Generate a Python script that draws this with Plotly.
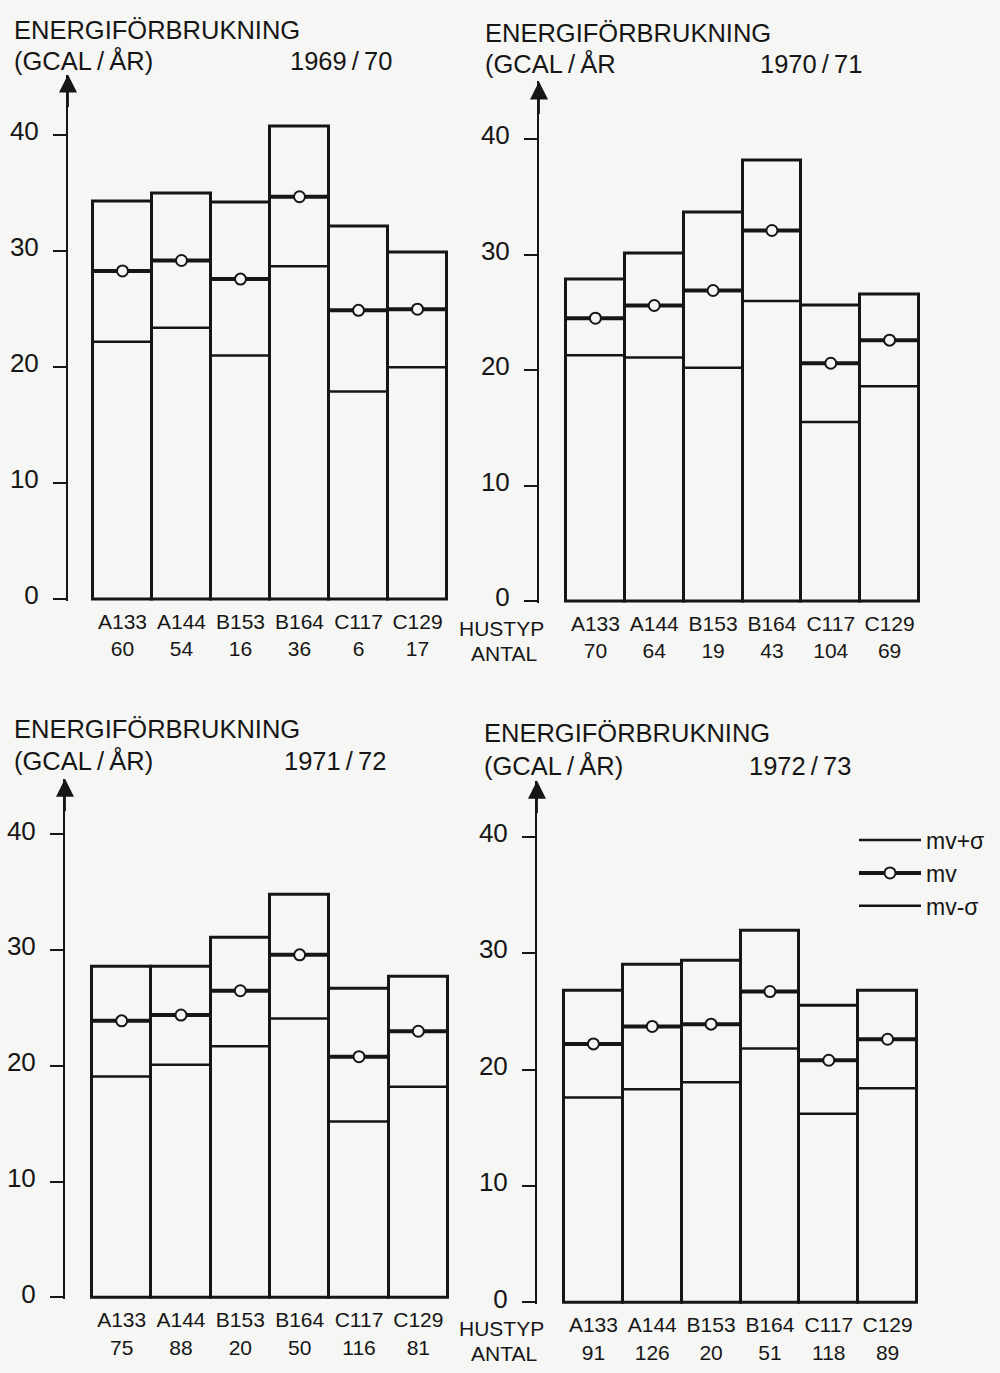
import plotly.graph_objects as go

# ---------------- data ----------------
categories = ["A133", "A144", "B153", "B164", "C117", "C129"]
years = ["1969\u2009/\u200970", "1970\u2009/\u200971", "1971\u2009/\u200972", "1972\u2009/\u200973"]

counts_6970 = [60, 54, 16, 36, 6, 17]
counts_7071 = [70, 64, 19, 43, 104, 69]
counts_7172 = [75, 88, 20, 50, 116, 81]
counts_7273 = [91, 126, 20, 51, 118, 89]

mv_plus_6970 = [34.3, 35.0, 34.2, 40.8, 32.1, 29.9]
mv_6970 = [28.3, 29.2, 27.6, 34.7, 24.9, 25.0]
mv_minus_6970 = [22.2, 23.4, 21.0, 28.7, 17.9, 20.0]

mv_plus_7071 = [27.9, 30.1, 33.7, 38.2, 25.6, 26.6]
mv_7071 = [24.5, 25.6, 26.9, 32.1, 20.6, 22.6]
mv_minus_7071 = [21.3, 21.1, 20.2, 26.0, 15.5, 18.6]

mv_plus_7172 = [28.6, 28.6, 31.1, 34.8, 26.7, 27.7]
mv_7172 = [23.9, 24.4, 26.5, 29.6, 20.8, 23.0]
mv_minus_7172 = [19.1, 20.1, 21.7, 24.1, 15.2, 18.2]

mv_plus_7273 = [26.8, 29.0, 29.3, 31.9, 25.5, 26.8]
mv_7273 = [22.2, 23.7, 23.9, 26.7, 20.8, 22.6]
mv_minus_7273 = [17.6, 18.3, 18.9, 21.8, 16.2, 18.4]

y_ticks = [0, 10, 20, 30, 40]
y_title_1 = "ENERGIFÖRBRUKNING"
y_title_2 = ["(GCAL\u2009/\u2009ÅR)", "(GCAL\u2009/\u2009ÅR", "(GCAL\u2009/\u2009ÅR)", "(GCAL\u2009/\u2009ÅR)"]
legend_names = ["mv+σ", "mv", "mv-σ"]

# ---------------- layout constants ----------------
W, H = 1000, 1373
BG = "#f6f6f4"
INK = "#161616"
FONT = "Liberation Sans, Arial, sans-serif"

panels = [
    dict(axis_x=68, left=93, right=447, zero=603, ppu=11.67, top=75,
         t1=(12, 30), t2=(12, 61), yr=(288, 61)),
    dict(axis_x=539, left=566, right=919, zero=605, ppu=11.62, top=82,
         t1=(483, 33), t2=(483, 64), yr=(758, 64)),
    dict(axis_x=65, left=92, right=448, zero=1306, ppu=11.65, top=784,
         t1=(12, 734), t2=(12, 766), yr=(282, 766)),
    dict(axis_x=537, left=564, right=917, zero=1311, ppu=11.72, top=786,
         t1=(482, 738), t2=(482, 771), yr=(747, 771)),
]

series = [
    (counts_6970, mv_plus_6970, mv_6970, mv_minus_6970),
    (counts_7071, mv_plus_7071, mv_7071, mv_minus_7071),
    (counts_7172, mv_plus_7172, mv_7172, mv_minus_7172),
    (counts_7273, mv_plus_7273, mv_7273, mv_minus_7273),
]


def seg(vals):
    xs, ys = [], []
    for i, v in enumerate(vals):
        xs += [i - 0.5, i + 0.5, None]
        ys += [v, v, None]
    return xs, ys


fig = go.Figure()
annotations = []
layout_axes = {}

for k, (spec, (cnt, plus, mv, minus)) in enumerate(zip(panels, series)):
    n = k + 1
    xa = "x" if n == 1 else f"x{n}"
    ya = "y" if n == 1 else f"y{n}"
    idx = list(range(len(categories)))

    ppx = (spec["right"] - spec["left"]) / 6
    xmin = -0.5 - (spec["left"] - spec["axis_x"]) / ppx
    xmax = 5.5 + 2 / ppx
    ymin = -2 / spec["ppu"]
    ymax = (spec["zero"] - spec["top"]) / spec["ppu"]

    # bars up to mv+sigma
    fig.add_trace(go.Bar(
        x=idx, y=plus, width=1, xaxis=xa, yaxis=ya,
        marker=dict(color=BG, line=dict(color=INK, width=3)),
        showlegend=False, hoverinfo="skip"))
    # mv - sigma
    sx, sy = seg(minus)
    fig.add_trace(go.Scatter(
        x=sx, y=sy, mode="lines", xaxis=xa, yaxis=ya,
        line=dict(color=INK, width=2.5), showlegend=False, hoverinfo="skip"))
    # mv
    sx, sy = seg(mv)
    fig.add_trace(go.Scatter(
        x=sx, y=sy, mode="lines", xaxis=xa, yaxis=ya,
        line=dict(color=INK, width=4), showlegend=False, hoverinfo="skip"))
    fig.add_trace(go.Scatter(
        x=idx, y=mv, mode="markers", xaxis=xa, yaxis=ya,
        marker=dict(symbol="circle", size=11, color=BG,
                    line=dict(color=INK, width=2)),
        showlegend=False, hoverinfo="skip"))

    dom_x = [spec["axis_x"] / W, (spec["right"] + 2) / W]
    dom_y = [1 - (spec["zero"] + 2) / H, 1 - spec["top"] / H]

    layout_axes["xaxis" if n == 1 else f"xaxis{n}"] = dict(
        domain=dom_x, range=[xmin, xmax], anchor=ya,
        showline=False, showgrid=False, zeroline=False, ticks="",
        tickvals=idx,
        ticktext=[f"{c}<br>{v}" for c, v in zip(categories, cnt)],
        tickfont=dict(family=FONT, size=21, color=INK),
        ticklabelstandoff=6, fixedrange=True)
    layout_axes["yaxis" if n == 1 else f"yaxis{n}"] = dict(
        domain=dom_y, range=[ymin, ymax], anchor=xa,
        showline=True, linecolor=INK, linewidth=2,
        showgrid=False, zeroline=False,
        ticks="outside", ticklen=13, tickwidth=2, tickcolor=INK,
        tickvals=y_ticks, ticktext=[str(t) for t in y_ticks],
        tickfont=dict(family=FONT, size=26, color=INK),
        ticklabelstandoff=9, ticklabelshift=-4, fixedrange=True)

    # arrow on the y axis
    annotations.append(dict(
        x=xmin, y=ymax, xref=xa, yref=ya, text="", showarrow=True,
        ax=0, ay=34, arrowhead=2, arrowsize=2.0, arrowwidth=1.8,
        arrowcolor=INK, standoff=0))

    # titles
    for txt, (px, py) in [(y_title_1, spec["t1"]), (y_title_2[k], spec["t2"]),
                          (years[k], spec["yr"])]:
        annotations.append(dict(
            x=px / W, y=1 - py / H, xref="paper", yref="paper",
            xanchor="left", yanchor="middle", text=txt, showarrow=False,
            font=dict(family=FONT, size=25.5, color=INK)))

# HUSTYP / ANTAL row labels
for (py1, py2) in [(633, 658), (1337, 1362)]:
    annotations.append(dict(x=501 / W, y=1 - py1 / H, xref="paper", yref="paper",
                            text="HUSTYP", showarrow=False, xanchor="center",
                            yanchor="middle",
                            font=dict(family=FONT, size=21, color=INK)))
    annotations.append(dict(x=504 / W, y=1 - py2 / H, xref="paper", yref="paper",
                            text="ANTAL", showarrow=False, xanchor="center",
                            yanchor="middle",
                            font=dict(family=FONT, size=21, color=INK)))

# legend keys
fig.add_trace(go.Scatter(x=[None], y=[None], mode="lines", name=legend_names[0],
                         line=dict(color=INK, width=2.5), xaxis="x4", yaxis="y4"))
fig.add_trace(go.Scatter(x=[None], y=[None], mode="lines+markers",
                         name=legend_names[1], xaxis="x4", yaxis="y4",
                         line=dict(color=INK, width=4),
                         marker=dict(symbol="circle", size=11, color=BG,
                                     line=dict(color=INK, width=2))))
fig.add_trace(go.Scatter(x=[None], y=[None], mode="lines", name=legend_names[2],
                         line=dict(color=INK, width=2.5), xaxis="x4", yaxis="y4"))

fig.update_layout(
    width=W, height=H, autosize=False,
    margin=dict(l=0, r=0, t=0, b=0),
    paper_bgcolor=BG, plot_bgcolor=BG,
    barmode="overlay", bargap=0,
    showlegend=True,
    legend=dict(x=854 / W, y=1 - 824 / H, xanchor="left", yanchor="top",
                bgcolor="rgba(0,0,0,0)", itemwidth=62,
                font=dict(family=FONT, size=23, color=INK),
                traceorder="normal"),
    annotations=annotations,
    **layout_axes,
)

fig.write_html("out.html")
